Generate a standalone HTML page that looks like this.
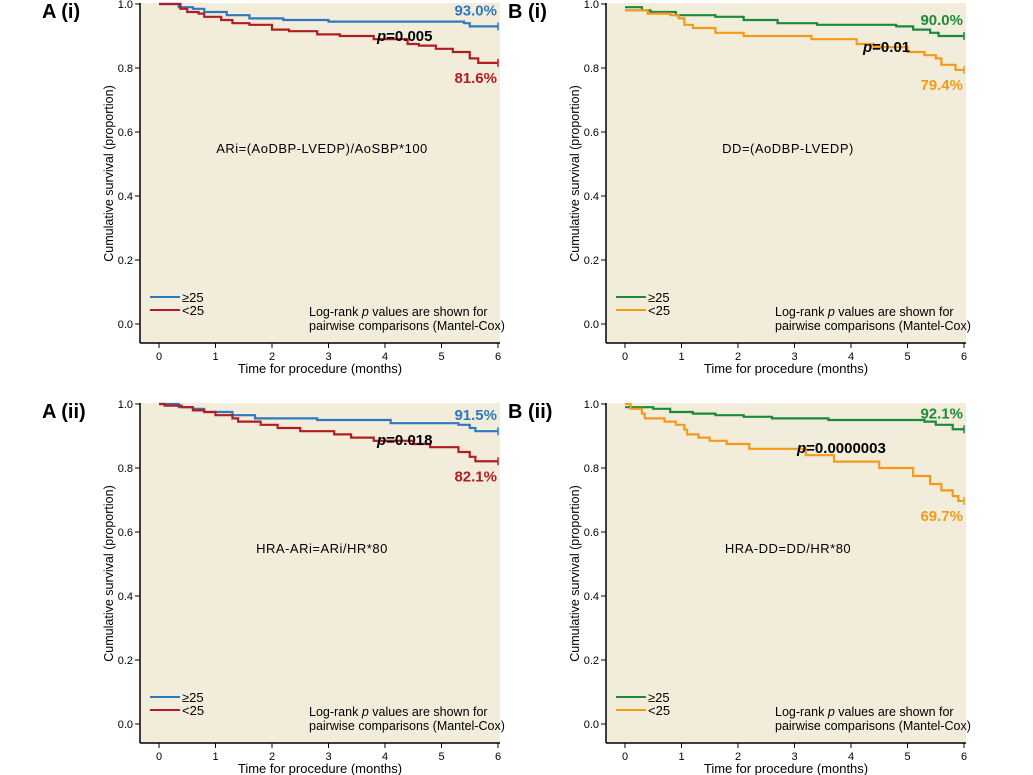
<!DOCTYPE html>
<html><head><meta charset="utf-8"><style>
body{margin:0;background:#fff;}
svg{display:block;font-family:"Liberation Sans",sans-serif;}
</style></head><body>
<svg id="s" width="1033" height="775" viewBox="0 0 1033 775" xmlns="http://www.w3.org/2000/svg"></svg>
<script>
const S=document.getElementById('s');let h='';
const BL='#2f78bd',RD='#b01e23',GR='#1b8a3a',OR='#f39a1b';
function panel(L,T,label,formula,c1,c2,d1,d2,lab1,lab2,p,px,py){
 const R=L+360,B=T+339,y1=T,x0=L+19;
 const X=t=>x0+t*56.5,Y=s=>y1+(1-s)*320;
 h+=`<rect x="${L}" y="${T-1}" width="${R-L}" height="${B-T+1}" fill="#f2eddb"/>`;
 h+=`<line x1="${L}" y1="${T-1}" x2="${L}" y2="${B}" stroke="#000" stroke-width="1.5"/><line x1="${L}" y1="${B}" x2="${R}" y2="${B}" stroke="#000" stroke-width="1.5"/>`;
 for(let i=0;i<=5;i++){const v=i*0.2,y=Y(v);h+=`<line x1="${L-5}" y1="${y}" x2="${L}" y2="${y}" stroke="#000"/><text x="${L-7}" y="${y+4}" font-size="11" text-anchor="end">${v.toFixed(1)}</text>`;}
 for(let i=0;i<=6;i++){const x=X(i);h+=`<line x1="${x}" y1="${B}" x2="${x}" y2="${B+5}" stroke="#000"/><text x="${x}" y="${B+17}" font-size="11" text-anchor="middle">${i}</text>`;}
 h+=`<text x="${(L+R)/2}" y="${B+30}" font-size="13" text-anchor="middle">Time for procedure (months)</text>`;
 h+=`<text transform="translate(${L-27},${(T+B)/2}) rotate(-90)" font-size="12.5" text-anchor="middle">Cumulative survival (proportion)</text>`;
 h+=`<text x="${L-98}" y="${T+14}" font-size="20" font-weight="bold">${label}</text>`;
 h+=`<text x="${(L+R)/2+2}" y="${Y(0.535)}" font-size="13" text-anchor="middle" letter-spacing="0.5">${formula}</text>`;
 function path(d,c){let s='M'+X(0)+','+Y(d[0][1]);for(const [t,v] of d){s+=' H'+X(t)+' V'+Y(v);}s+=' H'+X(6);
  h+=`<path d="${s}" fill="none" stroke="${c}" stroke-width="2.2"/>`;
  const v=d[d.length-1][1];h+=`<line x1="${X(6)}" y1="${Y(v)-4}" x2="${X(6)}" y2="${Y(v)+4}" stroke="${c}" stroke-width="1.5"/>`;}
 path(d1,c1);path(d2,c2);
 const v1=d1[d1.length-1][1],v2=d2[d2.length-1][1];
 h+=`<text x="${R-3}" y="${Y(v1)-11}" font-size="15" font-weight="bold" fill="${c1}" text-anchor="end">${lab1}</text>`;
 h+=`<text x="${R-3}" y="${Y(v2)+20}" font-size="15" font-weight="bold" fill="${c2}" text-anchor="end">${lab2}</text>`;
 h+=`<text x="${px}" y="${T+py}" font-size="15" font-weight="bold"><tspan font-style="italic">p</tspan>=${p}</text>`;
 h+=`<line x1="${L+10}" y1="${B-46}" x2="${L+40}" y2="${B-46}" stroke="${c1}" stroke-width="2"/><text x="${L+42}" y="${B-41}" font-size="13">≥25</text>`;
 h+=`<line x1="${L+10}" y1="${B-33}" x2="${L+40}" y2="${B-33}" stroke="${c2}" stroke-width="2"/><text x="${L+42}" y="${B-28}" font-size="13">&lt;25</text>`;
 h+=`<text x="${L+169}" y="${B-27}" font-size="12.5">Log-rank <tspan font-style="italic">p</tspan> values are shown for</text>`;
 h+=`<text x="${L+169}" y="${B-13}" font-size="12.5">pairwise comparisons (Mantel-Cox)</text>`;
}
const Ab=[[0.3,1],[0.35,0.99],[0.6,0.985],[0.8,0.975],[1.2,0.965],[1.6,0.955],[2.2,0.95],[3,0.945],[5.4,0.94],[5.5,0.93]];
const Ar=[[0.3,1],[0.38,0.985],[0.5,0.975],[0.7,0.97],[0.8,0.96],[1.1,0.95],[1.3,0.94],[1.6,0.935],[2,0.92],[2.3,0.915],[2.8,0.905],[3.2,0.9],[3.8,0.89],[4.4,0.875],[4.6,0.87],[4.9,0.86],[5.2,0.85],[5.5,0.83],[5.65,0.816]];
panel(140,4,'A (i)','ARi=(AoDBP-LVEDP)/AoSBP*100',BL,RD,Ab,Ar,'93.0%','81.6%','0.005',377,37);
const Bg=[[0.2,0.99],[0.3,0.98],[0.45,0.975],[0.9,0.965],[1.6,0.96],[2.1,0.95],[2.7,0.94],[3.4,0.935],[4.8,0.93],[5.1,0.92],[5.4,0.91],[5.55,0.9]];
const Bo=[[0.2,0.98],[0.4,0.97],[0.8,0.965],[0.95,0.955],[1.05,0.935],[1.2,0.925],[1.6,0.91],[2.1,0.9],[3.3,0.89],[4.1,0.875],[4.4,0.865],[5,0.85],[5.3,0.84],[5.5,0.83],[5.6,0.81],[5.85,0.794]];
panel(606,4,'B (i)','DD=(AoDBP-LVEDP)',GR,OR,Bg,Bo,'90.0%','79.4%','0.01',863,48);
const Cb=[[0.3,1],[0.35,0.99],[0.6,0.985],[0.8,0.975],[1.3,0.965],[1.7,0.955],[2.8,0.95],[4.1,0.94],[5.3,0.935],[5.5,0.925],[5.6,0.915]];
const Cr=[[0.05,1],[0.1,0.995],[0.4,0.99],[0.6,0.98],[0.8,0.975],[1.0,0.965],[1.3,0.955],[1.4,0.945],[1.8,0.935],[2.1,0.925],[2.5,0.915],[3.1,0.905],[3.4,0.895],[3.8,0.885],[4.5,0.875],[4.8,0.865],[5.3,0.85],[5.5,0.835],[5.6,0.821]];
panel(140,404,'A (ii)','HRA-ARi=ARi/HR*80',BL,RD,Cb,Cr,'91.5%','82.1%','0.018',377,41);
const Dg=[[0.35,0.99],[0.5,0.985],[0.8,0.975],[1.2,0.97],[1.6,0.965],[2.1,0.96],[2.6,0.955],[3.6,0.95],[5.3,0.945],[5.5,0.935],[5.8,0.921]];
const Do=[[0.05,1],[0.1,0.985],[0.3,0.97],[0.35,0.955],[0.7,0.945],[0.9,0.935],[1.05,0.92],[1.1,0.905],[1.3,0.895],[1.5,0.885],[1.8,0.875],[2.2,0.86],[3.2,0.84],[3.7,0.82],[4.5,0.8],[5.1,0.775],[5.4,0.75],[5.6,0.73],[5.8,0.712],[5.9,0.697]];
panel(606,404,'B (ii)','HRA-DD=DD/HR*80',GR,OR,Dg,Do,'92.1%','69.7%','0.0000003',797,49);
S.innerHTML=h;
</script>
</body></html>
